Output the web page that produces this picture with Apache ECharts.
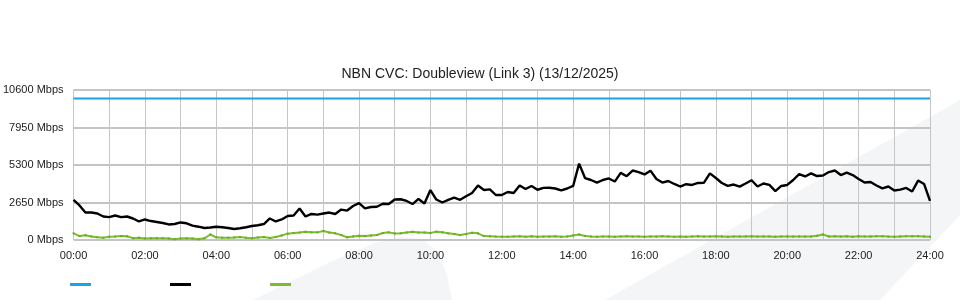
<!DOCTYPE html>
<html>
<head>
<meta charset="utf-8">
<script src="https://cdn.jsdelivr.net/npm/echarts@6/dist/echarts.min.js"></script>
<style>html,body{margin:0;padding:0;background:#fff}#c{width:960px;height:300px}</style>
</head>
<body>
<div id="c"></div>
<script>
// Sample step: 10 minutes, 00:00 .. 24:00
const sampleStepMinutes = 10;
const capacityMbps = [10000, 10000];
const capacityMinutes = [0, 1440];
const downloadMbps = [
2830,2440,1940,1940,1870,1660,1620,1730,1620,1660,1520,1310,1450,1340,1270,1200,1100,1130,1240,1180,
1020,940,850,880,940,900,850,780,830,900,990,1040,1130,1520,1310,1450,1700,1730,2230,1660,
1840,1790,1870,1940,1840,2150,2080,2400,2610,2230,2330,2350,2560,2540,2860,2880,2760,2540,2900,2580,
3530,2860,2650,2830,2990,2840,3090,3320,3850,3530,3580,3180,3180,3390,3320,3850,3600,3820,3550,3680,
3690,3640,3500,3640,3820,5400,4380,4240,4060,4240,4350,4130,4740,4510,4910,4800,4630,4900,4310,4060,
4170,3960,3780,3940,3890,4030,4050,4710,4380,4030,3820,3920,3770,3990,4220,3780,3990,3890,3460,3820,
3890,4240,4660,4490,4710,4520,4560,4800,4910,4590,4760,4590,4310,4060,4100,3850,3650,3780,3500,3560,
3680,3430,4200,3960,2760
];
const uploadMbps = [
470,280,340,250,200,160,230,250,280,260,130,160,110,120,120,120,110,60,110,120,
100,50,120,390,190,160,160,180,210,160,120,180,210,140,210,320,450,490,530,580,
540,540,640,530,470,350,190,250,300,280,320,350,490,540,460,470,530,580,530,530,
490,590,540,470,420,350,420,510,470,280,260,240,230,230,250,260,230,260,230,240,
240,260,230,250,320,390,280,250,230,250,250,230,250,270,240,250,230,250,240,270,
250,230,250,230,250,270,240,250,260,250,230,250,240,250,270,240,250,250,230,250,
250,240,250,240,250,300,390,250,270,240,260,230,270,250,250,270,260,240,230,250,
270,260,270,250,230
];
const xTickLabels = ['00:00','02:00','04:00','06:00','08:00','10:00','12:00','14:00','16:00','18:00','20:00','22:00','24:00'];
const yTickValues = [0, 2650, 5300, 7950, 10600];
const titleText = 'NBN CVC: Doubleview (Link 3) (13/12/2025)';
const seriesNames = ['Capacity', 'Download', 'Upload'];

const pair = (arr) => arr.map((v, i) => [i * sampleStepMinutes, v]);
const FONT = '"Liberation Sans", Arial, sans-serif';
const colors = ['#1ea2e6', '#000000', '#7bbd2b'];

const chart = echarts.init(document.getElementById('c'), null, {renderer: 'canvas'});
const legendBase = (name, left, color) => ({
  data: [name], left: left, top: 283, padding: 0, icon: 'rect', itemWidth: 21, itemHeight: 3,
  formatter: () => '', textStyle: {fontSize: 1, lineHeight: 3}, selectedMode: false,
  itemStyle: {color: color}
});
chart.setOption({
  animation: false,
  backgroundColor: '#ffffff',
  title: {
    text: titleText, left: 'center', top: 62,
    textStyle: {fontFamily: FONT, fontSize: 14, fontWeight: 'normal', color: '#222'}
  },
  graphic: [
    {type: 'polygon', z: -10, silent: true,
     shape: {points: [[253,300],[330,262],[375,243],[400,237],[422,239],[438,252],[447,275],[452,300]]},
     style: {fill: '#f4f5f7'}},
    {type: 'polygon', z: -10, silent: true,
     shape: {points: [[605,300],[960,100],[960,215],[880,300]]},
     style: {fill: '#f4f5f7'}}
  ],
  legend: [
    legendBase(seriesNames[0], 70, colors[0]),
    legendBase(seriesNames[1], 170, colors[1]),
    legendBase(seriesNames[2], 270, colors[2])
  ],
  grid: {left: 70, right: 30, top: 90, bottom: 60, containLabel: false},
  xAxis: {
    type: 'value', min: 0, max: 1440, interval: 60,
    axisLine: {show: false}, axisTick: {show: false},
    axisLabel: {
      fontFamily: FONT, fontSize: 11, color: '#222', margin: 10, showMinLabel: true, showMaxLabel: true,
      formatter: (v) => (v % 120 === 0 ? xTickLabels[v / 120] : '')
    },
    splitLine: {show: true, lineStyle: {color: '#c6c6c6', width: 1}}
  },
  yAxis: {
    type: 'value', min: yTickValues[0], max: yTickValues[yTickValues.length - 1], interval: 2650,
    axisLine: {show: false}, axisTick: {show: false},
    axisLabel: {fontFamily: FONT, fontSize: 11, color: '#222', margin: 10,
      formatter: (v) => v + ' Mbps'},
    splitLine: {show: true, lineStyle: {color: '#c4c4c4', width: 2}}
  },
  series: [
    {name: seriesNames[0], type: 'line', data: capacityMinutes.map((m, i) => [m, capacityMbps[i]]),
     showSymbol: false, lineStyle: {color: colors[0], width: 2}, itemStyle: {color: colors[0]}, z: 3},
    {name: seriesNames[2], type: 'line', data: pair(uploadMbps),
     symbol: 'rect', symbolSize: 2, showSymbol: true,
     lineStyle: {color: colors[2], width: 2}, itemStyle: {color: '#6aab22'}, z: 3},
    {name: seriesNames[1], type: 'line', data: pair(downloadMbps),
     showSymbol: false, lineStyle: {color: colors[1], width: 2.4}, itemStyle: {color: colors[1]}, z: 4}
  ]
});
</script>
</body>
</html>
